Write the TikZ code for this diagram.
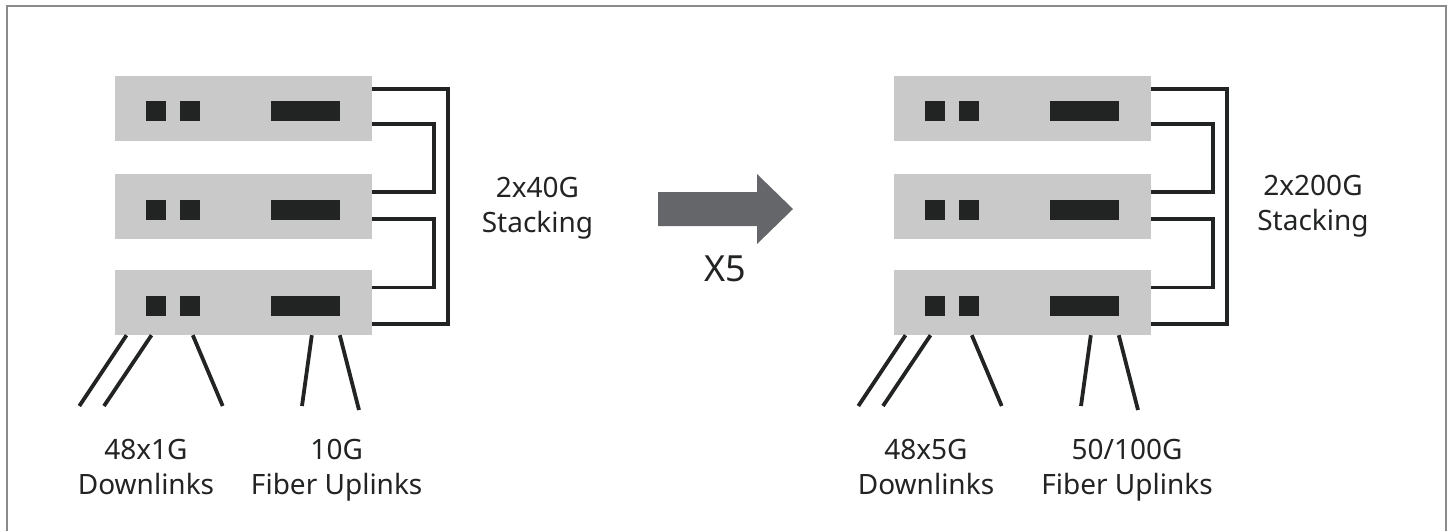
\documentclass[tikz,border=0pt]{standalone}
\usepackage{fontspec}
\setmainfont{Noto Sans}

\definecolor{SwitchColor}{HTML}{C8C9C8}
\definecolor{PortColor}{HTML}{222423}
\definecolor{ArrowColor}{HTML}{646669}
\definecolor{FrameColor}{HTML}{8A8A8A}
\tikzstyle{switch}=[rectangle,
                     fill={SwitchColor},
                     minimum width=257pt,
                     minimum height=65pt,
                     inner sep=0pt,
                    ]
\tikzstyle{port-base}=[rectangle,
                        fill={PortColor},
                        minimum height=20pt,
                        inner sep=0pt]
\tikzstyle{port}=[port-base, minimum width=20pt]
\tikzstyle{uplink-port}=[port-base, minimum width=69pt]
\tikzstyle{cable}=[draw={PortColor}, line width=3.8pt]
\tikzstyle{link-text}=[text={PortColor}, align=center,
                        font=\fontsize{28}{35}\selectfont]

\begin{document}
\begin{tikzpicture}[x=1pt, y=-1pt]
    \useasboundingbox (0,0) rectangle (1451,531);
    \draw[FrameColor, line width=2pt] (6.5,531) -- (6.5,5.5) -- (1445.5,5.5) -- (1445.5,531);

    % Old stack
    % --------------------------------------------------------------------------
    \node at (243.5, 108.0) (sw_l1) [switch] {};
    \node at (243.5, 206.5) (sw_l2) [switch] {};
    \node at (243.5, 302.5) (sw_l3) [switch] {};

    \node at (156.3, 111.0) (sw_l1_p1) [port] {};
    \node at (189.5, 111.0) (sw_l1_p2) [port] {};
    \node at (305.5, 111.0) (sw_l1_up) [uplink-port] {};
    \node at (156.3, 209.5) (sw_l2_p1) [port] {};
    \node at (189.5, 209.5) (sw_l2_p2) [port] {};
    \node at (305.5, 209.5) (sw_l2_up) [uplink-port] {};
    \node at (156.3, 305.5) (sw_l3_p1) [port] {};
    \node at (189.5, 305.5) (sw_l3_p2) [port] {};
    \node at (305.5, 305.5) (sw_l3_up) [uplink-port] {};

    % New stack
    % --------------------------------------------------------------------------
    \node at (1022.5, 108.0) (sw_r1) [switch] {};
    \node at (1022.5, 206.5) (sw_r2) [switch] {};
    \node at (1022.5, 302.5) (sw_r3) [switch] {};

    \node at ( 935.3, 111.0) (sw_r1_p1) [port] {};
    \node at ( 968.5, 111.0) (sw_r1_p2) [port] {};
    \node at (1084.5, 111.0) (sw_r1_up) [uplink-port] {};
    \node at ( 935.3, 209.5) (sw_r2_p1) [port] {};
    \node at ( 968.5, 209.5) (sw_r2_p2) [port] {};
    \node at (1084.5, 209.5) (sw_r2_up) [uplink-port] {};
    \node at ( 935.3, 305.5) (sw_r3_p1) [port] {};
    \node at ( 968.5, 305.5) (sw_r3_p2) [port] {};
    \node at (1084.5, 305.5) (sw_r3_up) [uplink-port] {};

    % Stacking cables
    % --------------------------------------------------------------------------
    \draw[cable] ([yshift=-14pt]sw_l1.north east) -- ++(76,0) |- ([yshift=11pt]sw_l3.south east);
    \draw[cable] ([yshift=-49pt]sw_l1.north east) -- ++(62,0) |- ([yshift=-18pt]sw_l2.north east);
    \draw[cable] ([yshift=-45pt]sw_l2.north east) -- ++(62,0) |- ([yshift=-17.7pt]sw_l3.north east);

    \draw[cable] ([yshift=-14pt]sw_r1.north east) -- ++(76,0) |- ([yshift=11pt]sw_r3.south east);
    \draw[cable] ([yshift=-49pt]sw_r1.north east) -- ++(62,0) |- ([yshift=-18pt]sw_r2.north east);
    \draw[cable] ([yshift=-45pt]sw_r2.north east) -- ++(62,0) |- ([yshift=-17.7pt]sw_r3.north east);

    % Down- and uplinks
    % --------------------------------------------------------------------------
    \coordinate (dl_l1) at ( 79.3, 406);
    \coordinate (dl_l2) at (104.0, 406);
    \coordinate (dl_l3) at (222.7, 406);
    \coordinate (ul_l1) at (302.0, 406);
    \coordinate (ul_l2) at (359.0, 410);
    \draw[cable] ([xshift=11.7pt]sw_l3.south west) -- (dl_l1);
    \draw[cable] ([xshift=36.7pt]sw_l3.south west) -- (dl_l2);
    \draw[cable] ([xshift=78pt]sw_l3.south west)   -- (dl_l3);
    \draw[cable] ([xshift=197pt]sw_l3.south west)  -- (ul_l1);
    \draw[cable] ([xshift=225pt]sw_l3.south west)  -- (ul_l2);

    \coordinate (dl_r1) at ( 858.3, 406);
    \coordinate (dl_r2) at ( 883.0, 406);
    \coordinate (dl_r3) at (1001.7, 406);
    \coordinate (ul_r1) at (1081.0, 406);
    \coordinate (ul_r2) at (1138.0, 410);
    \draw[cable] ([xshift=11.7pt]sw_r3.south west) -- (dl_r1);
    \draw[cable] ([xshift=36.7pt]sw_r3.south west) -- (dl_r2);
    \draw[cable] ([xshift=78pt]sw_r3.south west)   -- (dl_r3);
    \draw[cable] ([xshift=197pt]sw_r3.south west)  -- (ul_r1);
    \draw[cable] ([xshift=225pt]sw_r3.south west)  -- (ul_r2);

    % Scale arrow
    % --------------------------------------------------------------------------
    \fill[ArrowColor] (658,192) -- (757,192) -- (757,174) -- (793,209)
                      -- (757,244) -- (757,226) -- (658,226) -- cycle;
    \node at (725.5, 268.5) (scale_text) [text={PortColor}, font=\fontsize{36}{40}\selectfont] {X5};

    % Labels
    % --------------------------------------------------------------------------
    \node at ( 146.0, 467) (dl_text_l)    [link-text] {48x1G\\Downlinks};
    \node at ( 336.7, 470) (ul_text_l)    [link-text] {10G\\Fiber Uplinks};
    \node at ( 537.5, 208) (stack_text_l) [link-text] {2x40G\\Stacking};

    \node at ( 926.0, 467) (dl_text_r)    [link-text] {48x5G\\Downlinks};
    \node at (1127.0, 470) (ul_text_r)    [link-text] {50/100G\\Fiber Uplinks};
    \node at (1313.0, 206) (stack_text_r) [link-text] {2x200G\\Stacking};
\end{tikzpicture}
\end{document}
